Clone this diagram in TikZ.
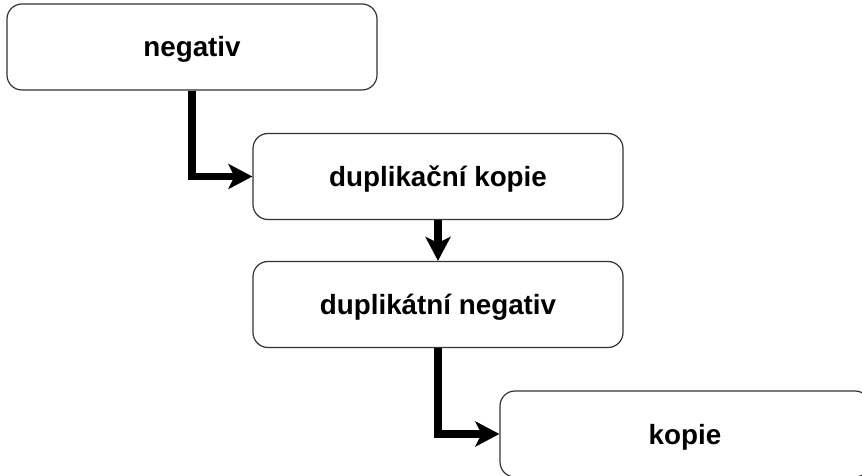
\documentclass[tikz,border=0pt]{standalone}
\usepackage{fontspec}
\setmainfont{Liberation Sans}
\usetikzlibrary{arrows.meta}
\begin{document}
\begin{tikzpicture}[x=1pt,y=-1pt,
  box/.style={draw=black!80,line width=1.2pt,rounded corners=15pt,fill=white,
    minimum width=370pt,minimum height=86pt,inner sep=0pt,
    text height=20pt,text depth=0pt,
    font=\fontsize{27.8}{33}\selectfont\bfseries},
  conn/.style={line width=7.5pt,-{Stealth[length=24pt,width=25pt,inset=6pt]}}]
\useasboundingbox (0,0) rectangle (862,476);
\clip (0,0) rectangle (862,476);
\node[box] (neg) at (192,47) {negativ};
\node[box] (dk) at (438,176.5) {duplikační kopie};
\node[box] (dn) at (438,304.5) {duplikátní negativ};
\node[box] (kop) at (685,434) {kopie};
\draw[conn] (neg.south) |- (dk.west);
\draw[conn] (dk.south) -- (dn.north);
\draw[conn] (dn.south) |- (kop.west);
\end{tikzpicture}
\end{document}
